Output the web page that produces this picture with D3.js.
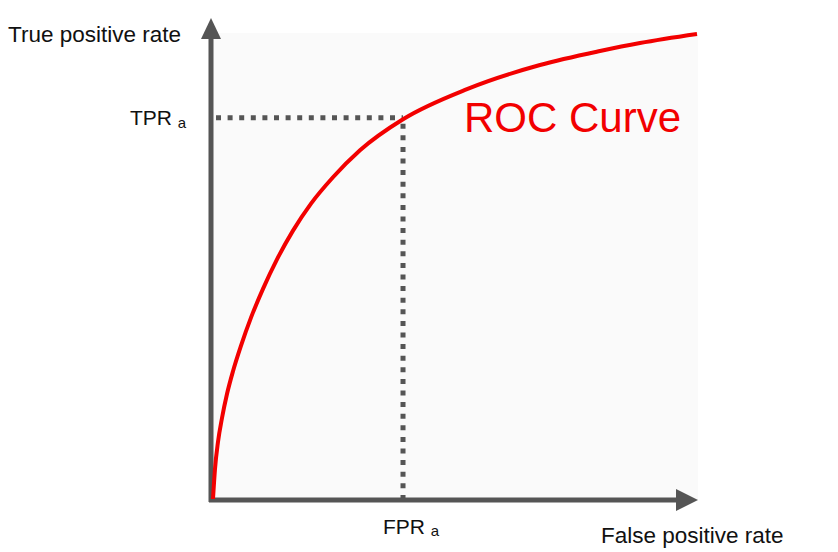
<!DOCTYPE html>
<html>
<head>
<meta charset="utf-8">
<script src="https://cdn.jsdelivr.net/npm/d3@7"></script>
<style>
  body { margin: 0; background: #fff; }
  text { font-family: "Helvetica Neue", Helvetica, "Liberation Sans", Arial, sans-serif; fill: #111; }
</style>
</head>
<body>
<svg width="838" height="552"></svg>
<script>
// ROC curve points (FPR, TPR)
var fpr = [0, 0.0041, 0.0103, 0.0186, 0.0289, 0.0413, 0.0579, 0.0785, 0.1033, 0.1322, 0.1653, 0.2025, 0.2479, 0.3037, 0.3926, 0.5248, 0.6756, 0.7996, 0.8822, 1.0];
var tpr = [0, 0.0645, 0.1226, 0.1742, 0.2258, 0.2748, 0.3299, 0.3901, 0.4520, 0.5153, 0.5772, 0.6353, 0.6920, 0.7501, 0.8168, 0.8815, 0.9333, 0.9634, 0.9806, 1.0];

// the marked operating point "a"
var pointA = { fpr: 0.3926, tpr: 0.820 };

var svg = d3.select("svg");

var x = d3.scaleLinear().domain([0, 1]).range([213, 697]);
var y = d3.scaleLinear().domain([0, 1]).range([499, 34]);

var axisColor = "#555";

// plot background
svg.append("rect")
    .attr("x", x(0) - 1)
    .attr("y", y(1) - 1)
    .attr("width", x(1) - x(0) + 2)
    .attr("height", y(0) - y(1) + 2)
    .attr("fill", "#fafafa");

// dotted guides to the point
svg.append("line")
    .attr("x1", x(0) + 3).attr("y1", y(pointA.tpr))
    .attr("x2", x(pointA.fpr)).attr("y2", y(pointA.tpr))
    .attr("stroke", axisColor).attr("stroke-width", 5)
    .attr("stroke-dasharray", "5,6.6");

svg.append("line")
    .attr("x1", x(pointA.fpr)).attr("y1", y(pointA.tpr) + 6)
    .attr("x2", x(pointA.fpr)).attr("y2", y(0) + 4)
    .attr("stroke", axisColor).attr("stroke-width", 5)
    .attr("stroke-dasharray", "5,6.6");

// axes with arrow heads
var x0 = x(0) - 2, y0 = y(0) + 1;

svg.append("line")
    .attr("x1", x0).attr("y1", y0 + 2)
    .attr("x2", x0).attr("y2", y(1) + 2)
    .attr("stroke", axisColor).attr("stroke-width", 5);

svg.append("path")
    .attr("d", "M" + x0 + "," + (y(1) - 16) + "L" + (x0 + 10) + "," + (y(1) + 5) + "L" + (x0 - 10) + "," + (y(1) + 5) + "Z")
    .attr("fill", axisColor);

svg.append("line")
    .attr("x1", x0 - 2).attr("y1", y0)
    .attr("x2", x(1) - 20).attr("y2", y0)
    .attr("stroke", axisColor).attr("stroke-width", 5);

svg.append("path")
    .attr("d", "M" + (x(1) + 1) + "," + y0 + "L" + (x(1) - 21) + "," + (y0 - 11) + "L" + (x(1) - 21) + "," + (y0 + 11) + "Z")
    .attr("fill", axisColor);

// ROC curve
var line = d3.line()
    .x(function(d, i) { return x(fpr[i]); })
    .y(function(d, i) { return y(tpr[i]); })
    .curve(d3.curveMonotoneX);

svg.append("path")
    .datum(fpr)
    .attr("d", line)
    .attr("fill", "none")
    .attr("stroke", "#f20000")
    .attr("stroke-width", 4);

// labels
svg.append("text")
    .attr("x", 8).attr("y", 42)
    .style("font-size", "22.5px")
    .text("True positive rate");

svg.append("text")
    .attr("x", 601).attr("y", 543)
    .style("font-size", "22.5px")
    .text("False positive rate");

var tprLabel = svg.append("text")
    .attr("x", 130).attr("y", y(pointA.tpr) + 7)
    .style("font-size", "21px");
tprLabel.append("tspan").text("TPR ");
tprLabel.append("tspan").attr("dy", 3).style("font-size", "15px").text("a");

var fprLabel = svg.append("text")
    .attr("x", 383).attr("y", 534)
    .style("font-size", "21px");
fprLabel.append("tspan").text("FPR ");
fprLabel.append("tspan").attr("dy", 2).style("font-size", "15px").text("a");

svg.append("text")
    .attr("x", 464).attr("y", 132)
    .style("font-size", "42px")
    .style("fill", "#f20000")
    .text("ROC Curve");
</script>
</body>
</html>
